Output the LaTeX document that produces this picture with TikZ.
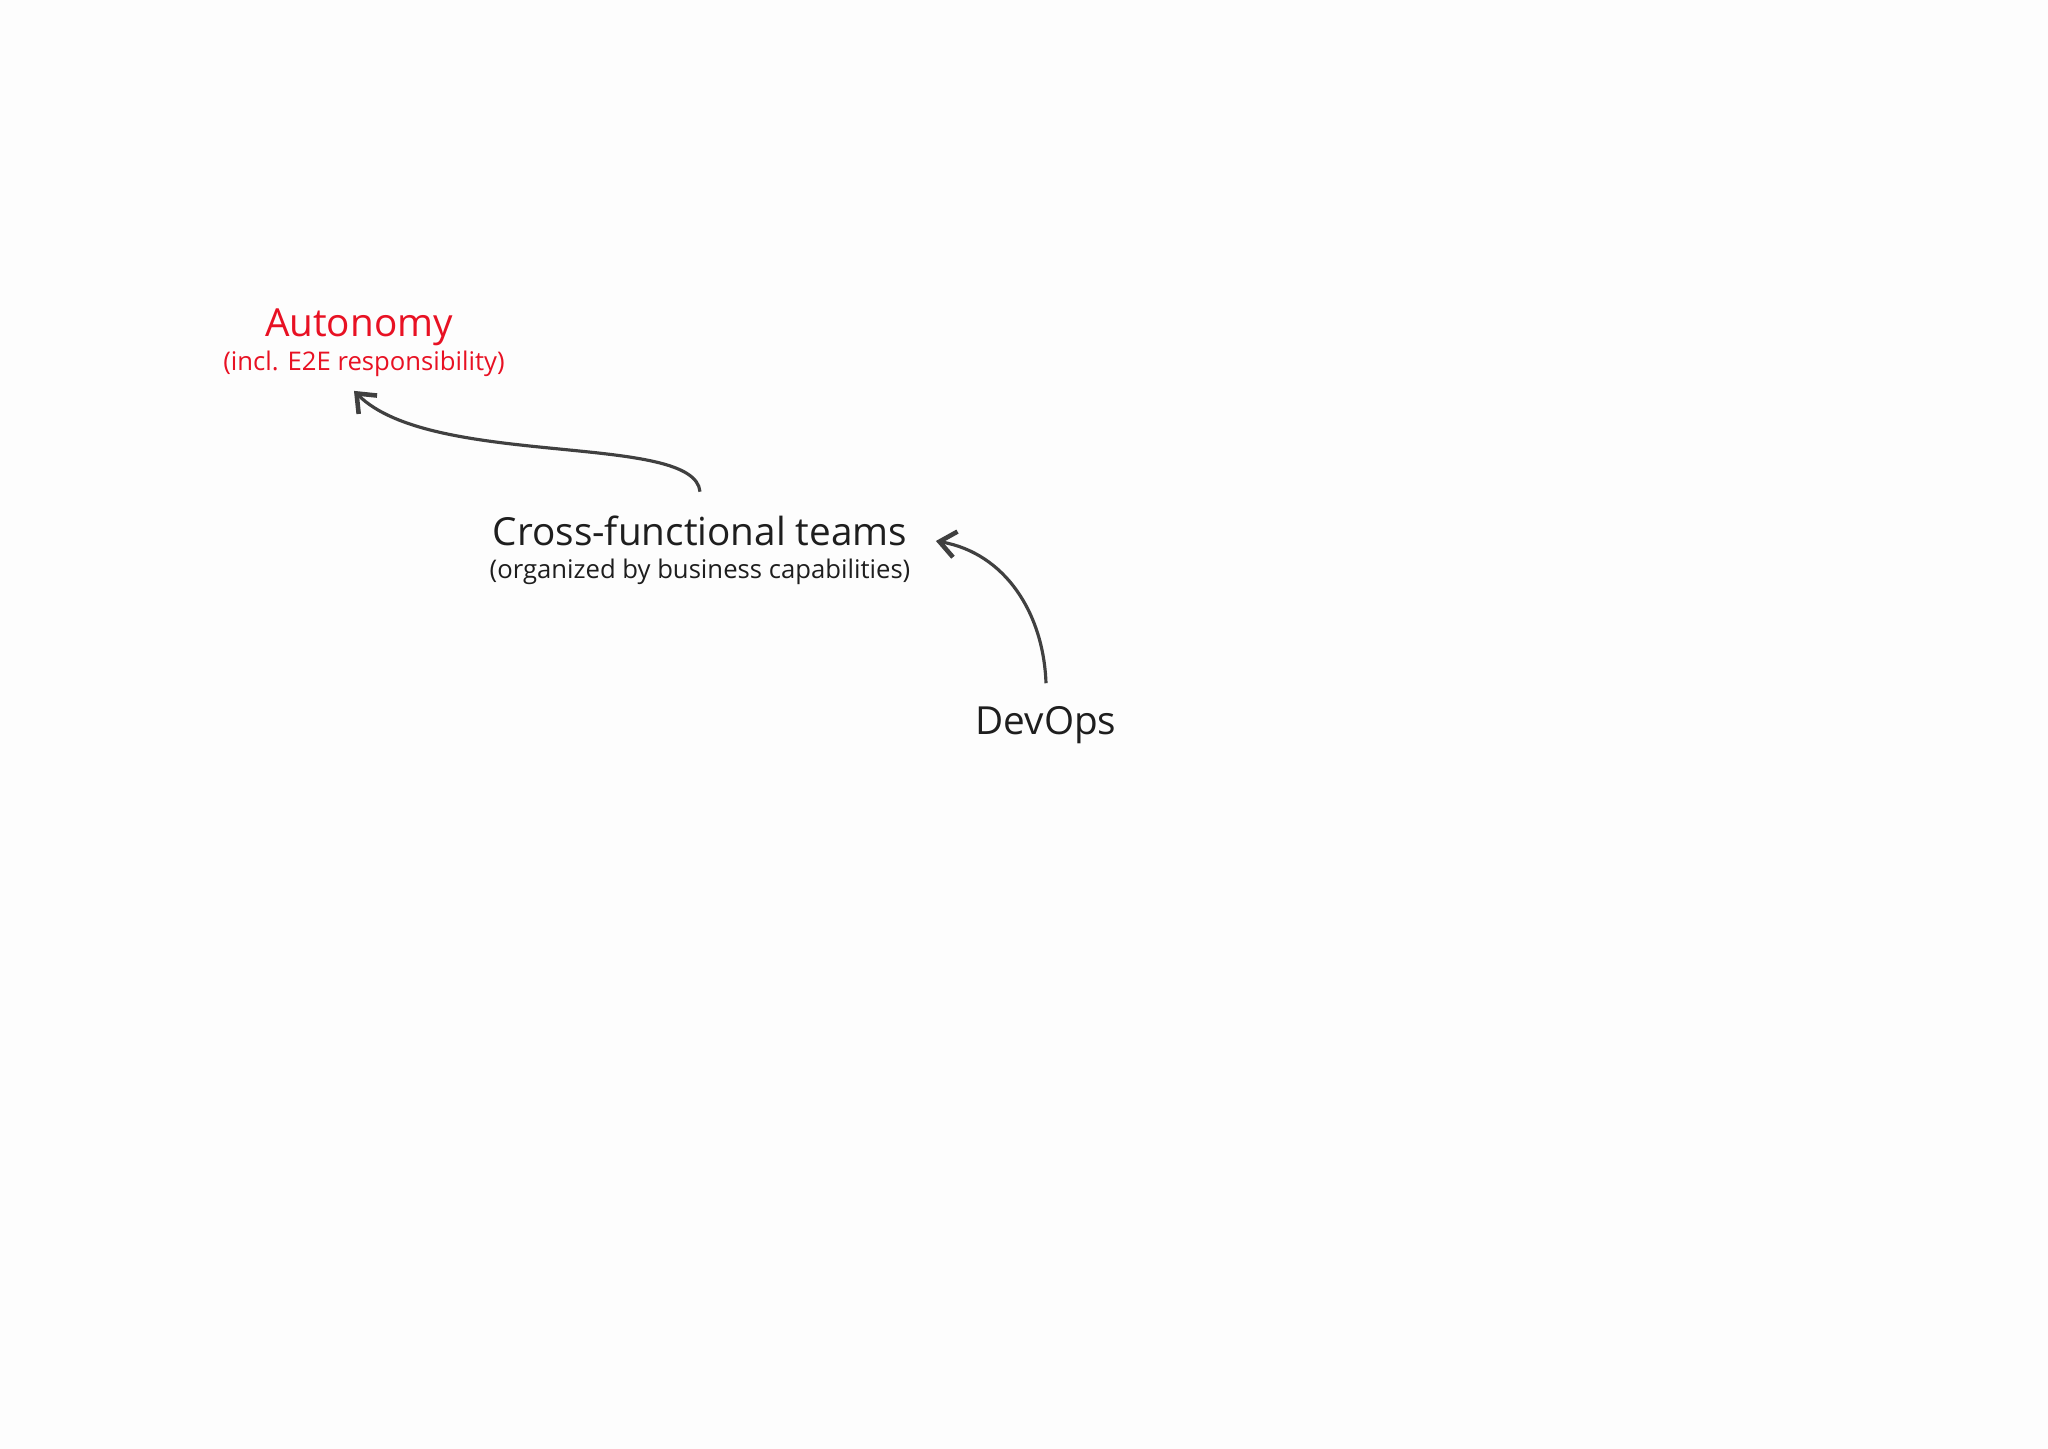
\documentclass[tikz,border=0pt]{standalone}
\usepackage{fontspec}
\setmainfont{Open Sans}
\usetikzlibrary{arrows.meta}
\definecolor{autred}{RGB}{232,17,35}
\definecolor{txtgray}{RGB}{30,30,30}
\definecolor{arrgray}{RGB}{64,64,64}
\definecolor{paper}{RGB}{253,253,253}
\begin{document}
\begin{tikzpicture}[x=0.01cm,y=0.01cm,
    title/.style={inner sep=0pt,anchor=base,text=txtgray,font=\fontsize{11}{13}\selectfont},
    sub/.style={inner sep=0pt,anchor=base,text=txtgray,font=\fontsize{7.3}{9}\selectfont},
    link/.style={arrgray,line width=0.9pt,-{Straight Barb[length=1.6mm,width=2.6mm,line width=1.3pt]}}]
    \fill[paper] (0,0) rectangle (2048,-1449);
    \useasboundingbox (0,0) rectangle (2048,-1449);
    \node[title,text=autred] (autonomy) at (359,-337) {Autonomy};
    \node[sub,text=autred] (autsub) at (364,-371) {(incl. E2E responsibility)};
    \node[title] (cross) at (700,-546) {Cross-functional teams};
    \node[sub] (crosssub) at (700,-579) {(organized by business capabilities)};
    \node[title] (devops) at (1046,-735) {DevOps};
    \draw[link] ([yshift=0.24cm]cross.north) to[out=95,in=-45,out distance=0.6cm,in distance=1.1cm] ([xshift=-0.1cm,yshift=-0.13cm]autsub.south);
    \draw[link] ([yshift=0.23cm]devops.north) to[out=92,in=-10] ([xshift=0.28cm,yshift=0.05cm]cross.base east);
\end{tikzpicture}
\end{document}
